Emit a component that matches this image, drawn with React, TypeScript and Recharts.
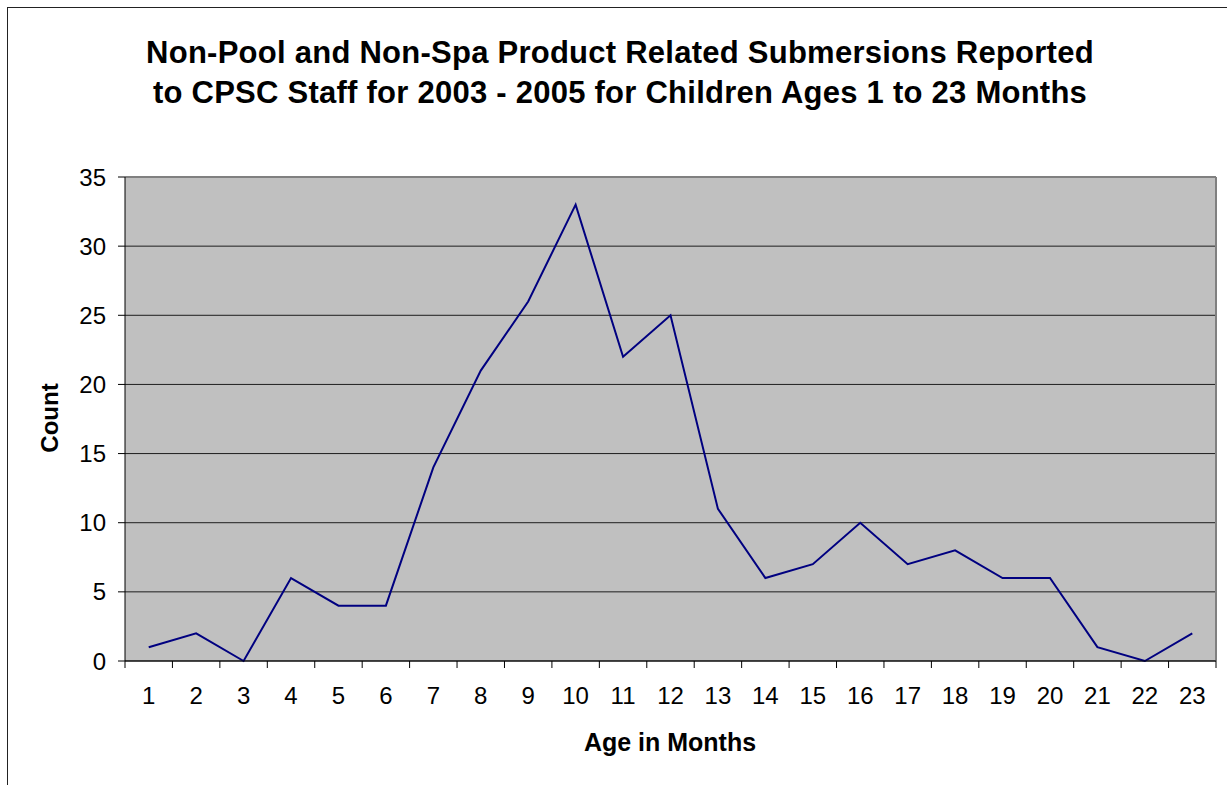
import React from "react";
import { LineChart, Line, XAxis, YAxis, CartesianGrid, ReferenceLine } from "recharts";

// age in months (categories) and submersion counts
const ages = [1, 2, 3, 4, 5, 6, 7, 8, 9, 10, 11, 12, 13, 14, 15, 16, 17, 18, 19, 20, 21, 22, 23];
const counts = [1, 2, 0, 6, 4, 4, 14, 21, 26, 33, 22, 25, 11, 6, 7, 10, 7, 8, 6, 6, 1, 0, 2];
const yTicks = [0, 5, 10, 15, 20, 25, 30, 35];
// tick marks sit between categories, like Excel's category axis
const boundaryTicks = [0, ...ages].map((a) => a + 0.5);

const data = ages.map((age, i) => ({ age, count: counts[i] }));

const FONT = "Arial, 'Liberation Sans', Helvetica, sans-serif";

const NoLabel = () => <g />;

export default function App() {
  return (
    <div style={{ position: "relative", width: 1227, height: 785, fontFamily: FONT, background: "#fff" }}>
      <style>{`body{margin:0;overflow:hidden}`}</style>
      {/* outer chart frame (only left/top visible in the crop) */}
      <div style={{ position: "absolute", left: 7, top: 7, width: 1220, height: 778, borderLeft: "1px solid #222", borderTop: "1px solid #222" }} />
      <div style={{ position: "absolute", left: 0, width: 1240, top: 33, textAlign: "center", fontWeight: "bold", fontSize: 31, letterSpacing: 0.25, lineHeight: "40px", color: "#000" }}>
        Non-Pool and Non-Spa Product Related Submersions Reported
        <br />
        to CPSC Staff for 2003 - 2005 for Children Ages 1 to 23 Months
      </div>
      <div style={{ position: "absolute", left: 50, top: 418, transform: "translate(-50%, -50%) rotate(-90deg)", fontWeight: "bold", fontSize: 24, whiteSpace: "nowrap" }}>
        Count
      </div>
      <div style={{ position: "absolute", left: 670, top: 742, transform: "translate(-50%, -50%)", fontWeight: "bold", fontSize: 25, whiteSpace: "nowrap" }}>
        Age in Months
      </div>
      <div style={{ position: "absolute", left: 0, top: 0 }}>
        <LineChart width={1227} height={785} data={data} margin={{ top: 177, right: 11, bottom: 63, left: 0 }}>
          <CartesianGrid xAxisId="b" vertical={false} stroke="#000" strokeOpacity={0.85} fill="#c0c0c0" fillOpacity={1} />
          <XAxis
            xAxisId="b"
            dataKey="age"
            type="number"
            domain={[0.5, 23.5]}
            ticks={ages}
            interval={0}
            height={60}
            axisLine={false}
            tickLine={false}
            tickSize={0}
            tickMargin={25}
            tick={{ fill: "#000", fontSize: 24, fontFamily: FONT }}
          />
          <XAxis
            xAxisId="a"
            dataKey="age"
            type="number"
            domain={[0.5, 23.5]}
            ticks={boundaryTicks}
            interval={0}
            tick={NoLabel}
            tickSize={7}
            height={1}
            axisLine={{ stroke: "#000" }}
            tickLine={{ stroke: "#000" }}
          />
          <YAxis
            type="number"
            domain={[0, 35]}
            ticks={yTicks}
            interval={0}
            width={125}
            tickSize={7}
            tickMargin={12}
            axisLine={{ stroke: "#000" }}
            tickLine={{ stroke: "#000" }}
            tick={{ fill: "#000", fontSize: 24, fontFamily: FONT }}
          />
          <ReferenceLine xAxisId="b" y={35} stroke="#808080" strokeWidth={2} />
          <ReferenceLine xAxisId="b" x={23.5} stroke="#808080" strokeWidth={2} />
          <Line
            xAxisId="b"
            type="linear"
            dataKey="count"
            stroke="#000080"
            strokeWidth={2}
            dot={false}
            isAnimationActive={false}
          />
        </LineChart>
      </div>
    </div>
  );
}
